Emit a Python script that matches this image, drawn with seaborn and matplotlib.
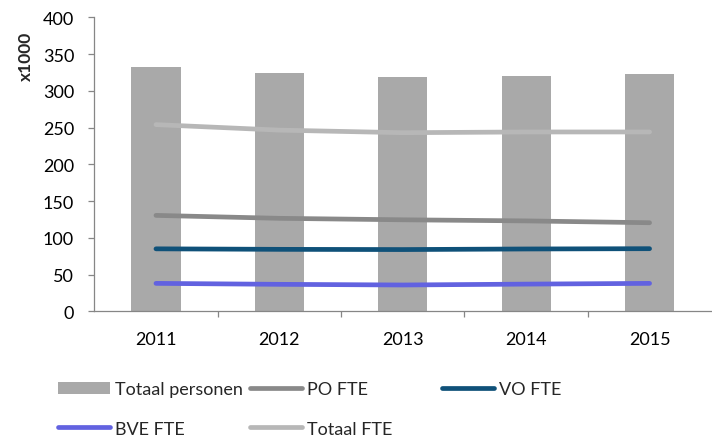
import pandas as pd
import seaborn as sns
import matplotlib.pyplot as plt

sns.set_theme(style="white")
plt.rcParams['font.family'] = ['Lato', 'DejaVu Sans']

# data (x1000)
jaren = [2011, 2012, 2013, 2014, 2015]
totaal_personen = [333, 324, 319, 320.5, 322.5]
po_fte = [130.5, 126.5, 124.5, 123, 120.5]
vo_fte = [85, 84.3, 84, 84.8, 85.2]
bve_fte = [38, 36.7, 35.8, 37, 38]
totaal_fte = [254, 246.5, 243, 244, 244]

kleuren = {
    'PO FTE': '#898989',
    'VO FTE': '#0F5179',
    'BVE FTE': '#6262E0',
    'Totaal FTE': '#B7B7B7',
}

df_lijn = pd.DataFrame({
    'jaar': jaren * 4,
    'waarde': po_fte + vo_fte + bve_fte + totaal_fte,
    'serie': ['PO FTE'] * 5 + ['VO FTE'] * 5 + ['BVE FTE'] * 5 + ['Totaal FTE'] * 5,
})
df_bar = pd.DataFrame({'jaar': jaren, 'waarde': totaal_personen})

fig = plt.figure(figsize=(7.12, 4.39), dpi=100)
ax = fig.add_axes([0.1324, 0.2886, 0.8666, 0.6697])

sns.barplot(data=df_bar, x='jaar', y='waarde', native_scale=True, width=0.4,
            color='#A9A9A9', saturation=1, linewidth=0, label='Totaal personen', ax=ax)
sns.lineplot(data=df_lijn, x='jaar', y='waarde', hue='serie', palette=kleuren,
             linewidth=3.4, solid_capstyle='round', sort=False, ax=ax)

# assen
ax.set_xlim(jaren[0] - 0.5, jaren[-1] + 0.5)
ax.set_ylim(0, 400)
ax.set_yticks(range(0, 401, 50))
ax.set_xticks(jaren)
ax.set_xticklabels([str(j) for j in jaren])
ax.set_xticks([j + 0.5 for j in jaren[:-1]], minor=True)
ax.tick_params(axis='x', which='major', length=0, pad=14, labelsize=13, colors='#000000')
ax.tick_params(axis='x', which='minor', length=4.5, width=0.9, color='#868686', bottom=True)
ax.tick_params(axis='y', length=4.5, width=0.9, color='#868686', pad=10, labelsize=13,
               labelcolor='#000000', left=True)
for s in ['top', 'right']:
    ax.spines[s].set_visible(False)
for s in ['left', 'bottom']:
    ax.spines[s].set_color('#868686')
    ax.spines[s].set_linewidth(0.9)
ax.set_xlabel('')
ax.set_ylabel('x1000', fontsize=12.5, fontweight='bold')
ax.yaxis.set_label_coords(-0.098, 0.871)

# legenda in drie vaste kolommen zoals in Excel
handles, labels = ax.get_legend_handles_labels()
ax.get_legend().remove()
hmap = dict(zip(labels, handles))
for naam in kleuren:
    hmap[naam].set_linewidth(3.4)
    hmap[naam].set_solid_capstyle('round')

kolommen = [(['Totaal personen', 'BVE FTE'], 58), (['PO FTE', 'Totaal FTE'], 250), (['VO FTE'], 442)]
for namen, xpix in kolommen:
    ycen = 410 if len(namen) == 2 else 390
    fig.legend([hmap[n] for n in namen], namen, loc='center left',
               bbox_to_anchor=(xpix / 712, 1 - ycen / 439), frameon=False,
               fontsize=13, borderpad=0, borderaxespad=0, handlelength=2.88,
               handletextpad=0.28, labelspacing=1.28)

fig.savefig('out.png', dpi=100)
